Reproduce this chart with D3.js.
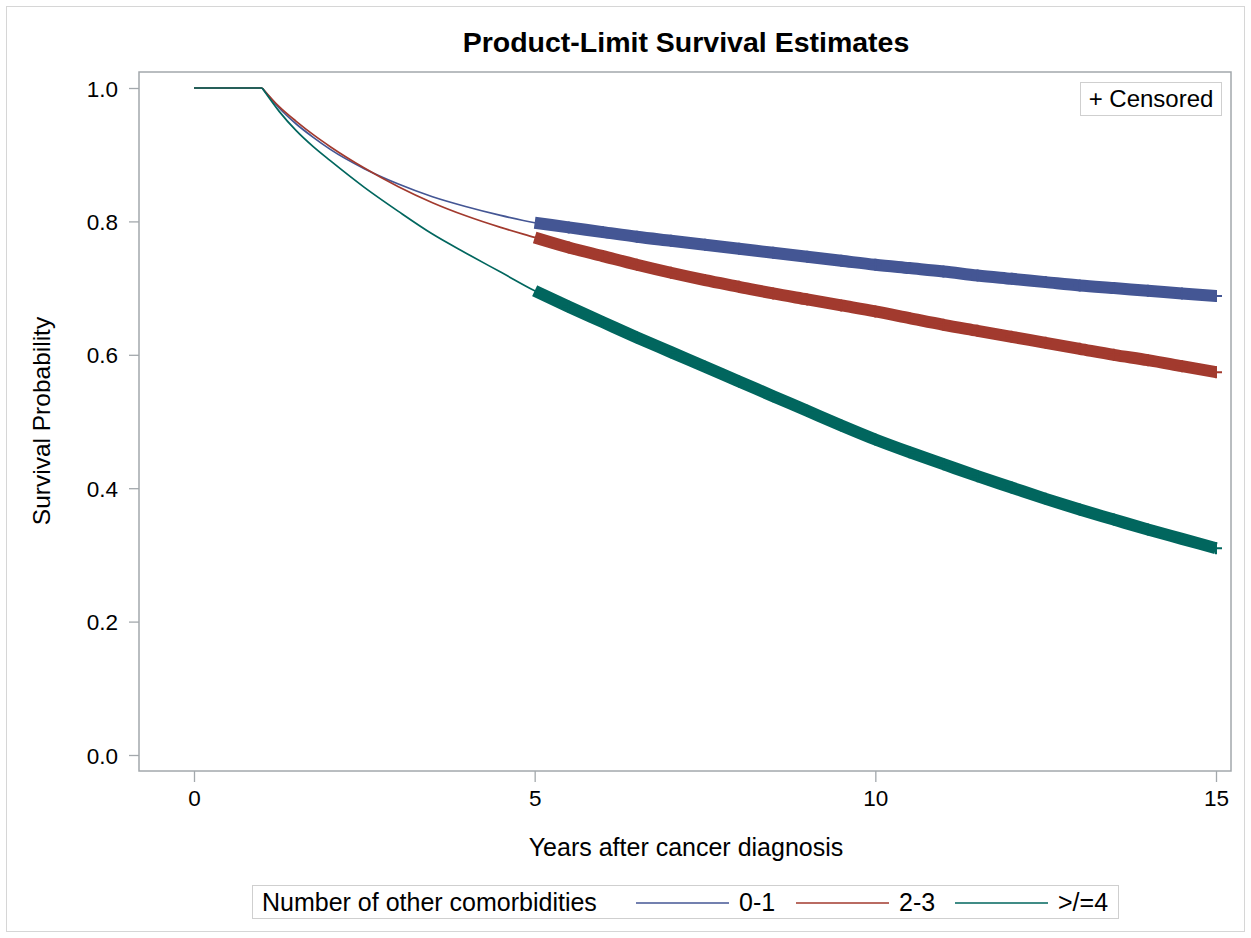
<!DOCTYPE html>
<html>
<head>
<meta charset="utf-8">
<script src="https://cdn.jsdelivr.net/npm/d3@7"></script>
<style>
  body { margin: 0; background: #fff; }
  text { font-family: "Liberation Sans", Arial, sans-serif; fill: #000; }
</style>
</head>
<body>
<div id="chart"></div>
<script>
// years after diagnosis
var years = [0, 1, 1.25, 1.5, 1.75, 2, 2.5, 3, 3.5, 4, 4.5, 5, 5.5, 6, 6.5, 7, 7.5, 8, 8.5, 9, 9.5,
             10, 10.5, 11, 11.5, 12, 12.5, 13, 13.5, 14, 14.5, 15];
// survival estimates per group
var surv01 = [1, 1, 0.970, 0.946, 0.926, 0.908, 0.879, 0.856, 0.837, 0.822, 0.809, 0.798, 0.791, 0.784, 0.777, 0.771,
              0.765, 0.759, 0.753, 0.747, 0.741, 0.735, 0.730, 0.725, 0.719, 0.714, 0.709, 0.704, 0.700, 0.696, 0.692, 0.688];
var surv23 = [1, 1, 0.972, 0.950, 0.930, 0.912, 0.880, 0.852, 0.828, 0.808, 0.791, 0.776, 0.761, 0.748, 0.735, 0.723,
              0.712, 0.702, 0.692, 0.683, 0.674, 0.665, 0.655, 0.645, 0.636, 0.627, 0.618, 0.609, 0.600, 0.592, 0.583, 0.574];
var surv4 = [1, 1, 0.965, 0.936, 0.912, 0.891, 0.851, 0.815, 0.781, 0.752, 0.724, 0.696, 0.672, 0.649, 0.626, 0.604,
             0.582, 0.560, 0.538, 0.516, 0.494, 0.473, 0.454, 0.436, 0.418, 0.401, 0.384, 0.368, 0.353, 0.338, 0.324, 0.310];
var groups = ["0-1", "2-3", ">/=4"];
var colors = ["#445694", "#A23A2E", "#01665E"];
var eventsFrom = 1;   // no deaths in the first year
var censorFrom = 5;   // censored subjects from year 5 onward
var xTicks = [0, 5, 10, 15];
var yTicks = [0, 0.2, 0.4, 0.6, 0.8, 1.0];

var width = 1251, height = 938;
var frame = {left: 139, top: 72, right: 1231, bottom: 771};

var svg = d3.select("#chart").append("svg")
    .attr("width", width)
    .attr("height", height);

// outer border
svg.append("rect")
    .attr("x", 6.5).attr("y", 6.5)
    .attr("width", width - 13).attr("height", height - 13)
    .attr("fill", "none")
    .attr("stroke", "#d6d6d6");

var x = d3.scaleLinear().domain([0, 15]).range([194, 1216]);
var y = d3.scaleLinear().domain([0, 1]).range([755, 88]);

svg.append("text")
    .attr("x", 686).attr("y", 52)
    .attr("text-anchor", "middle")
    .style("font-size", "28.5px")
    .style("font-weight", "bold")
    .text("Product-Limit Survival Estimates");

// axes
var xAxis = svg.append("g")
    .attr("transform", "translate(0," + frame.bottom + ")")
    .call(d3.axisBottom(x).tickValues(xTicks).tickSize(11).tickPadding(8).tickFormat(d3.format("d")));
var yAxis = svg.append("g")
    .attr("transform", "translate(" + frame.left + ",0)")
    .call(d3.axisLeft(y).tickValues(yTicks).tickSize(10).tickPadding(11).tickFormat(d3.format(".1f")));
[xAxis, yAxis].forEach(function (g) {
    g.select(".domain").remove();
    g.selectAll(".tick line").attr("stroke", "#a3a8ac").attr("stroke-width", 1.3);
    g.selectAll(".tick text")
        .style("font-size", "22.5px")
        .style("font-family", "'Liberation Sans', Arial, sans-serif")
        .attr("fill", "#000");
});
yAxis.selectAll(".tick text").attr("dy", "0.36em");

svg.append("rect")
    .attr("x", frame.left).attr("y", frame.top)
    .attr("width", frame.right - frame.left)
    .attr("height", frame.bottom - frame.top)
    .attr("fill", "none")
    .attr("stroke", "#a3a8ac")
    .attr("stroke-width", 1.5);

svg.append("text")
    .attr("x", 686).attr("y", 856)
    .attr("text-anchor", "middle")
    .style("font-size", "25px")
    .text("Years after cancer diagnosis");

svg.append("text")
    .attr("transform", "translate(50,421) rotate(-90)")
    .attr("text-anchor", "middle")
    .style("font-size", "24.5px")
    .text("Survival Probability");

// curves
var series = [surv01, surv23, surv4].map(function (s, i) {
    return {
        name: groups[i],
        color: colors[i],
        points: years.map(function (t, j) { return {t: t, s: s[j]}; })
    };
});

var flat = d3.line()
    .x(function (d) { return x(d.t); })
    .y(function (d) { return y(d.s); });
var line = d3.line()
    .curve(d3.curveMonotoneX)
    .x(function (d) { return x(d.t); })
    .y(function (d) { return y(d.s); });

var plot = svg.append("g").attr("class", "curves");

series.forEach(function (sr) {
    plot.append("path")
        .datum(sr.points.filter(function (d) { return d.t <= eventsFrom; }))
        .attr("d", flat)
        .attr("fill", "none")
        .attr("stroke", sr.color)
        .attr("stroke-width", 1.7);
    plot.append("path")
        .datum(sr.points.filter(function (d) { return d.t >= eventsFrom; }))
        .attr("d", line)
        .attr("fill", "none")
        .attr("stroke", sr.color)
        .attr("stroke-width", 1.7);

    var cens = sr.points.filter(function (d) { return d.t >= censorFrom; });
    // dense censoring marks merge into a band
    plot.append("path")
        .datum(cens)
        .attr("d", line)
        .attr("fill", "none")
        .attr("stroke", sr.color)
        .attr("stroke-width", 12)
        .attr("stroke-linecap", "butt");

    plot.selectAll(null)
        .data(cens.filter(function (d) { return d.t > censorFrom; }))
        .enter().append("path")
        .attr("d", function (d) {
            var cx = x(d.t), cy = y(d.s);
            return "M" + (cx - 6) + "," + cy + "H" + (cx + 6) + "M" + cx + "," + (cy - 6) + "V" + (cy + 6);
        })
        .attr("stroke", sr.color)
        .attr("stroke-width", 2);
});

// censored legend
svg.append("rect")
    .attr("x", 1080.5).attr("y", 82.5)
    .attr("width", 141).attr("height", 33)
    .attr("fill", "#fff")
    .attr("stroke", "#cfcfcf");
svg.append("text")
    .attr("x", 1151).attr("y", 107)
    .attr("text-anchor", "middle")
    .style("font-size", "24px")
    .text("+ Censored");

// group legend
var legend = svg.append("g");
legend.append("rect")
    .attr("x", 252.5).attr("y", 885.5)
    .attr("width", 866).attr("height", 33)
    .attr("fill", "#fff")
    .attr("stroke", "#cfcfcf");
legend.append("text")
    .attr("x", 262).attr("y", 911)
    .style("font-size", "25px")
    .text("Number of other comorbidities");

var lineStart = [636, 796, 955];
groups.forEach(function (g, i) {
    legend.append("line")
        .attr("x1", lineStart[i]).attr("x2", lineStart[i] + 93)
        .attr("y1", 903).attr("y2", 903)
        .attr("stroke", colors[i])
        .attr("stroke-width", 1.7);
    legend.append("text")
        .attr("x", lineStart[i] + 103).attr("y", 911)
        .style("font-size", "25px")
        .text(g);
});
</script>
</body>
</html>
